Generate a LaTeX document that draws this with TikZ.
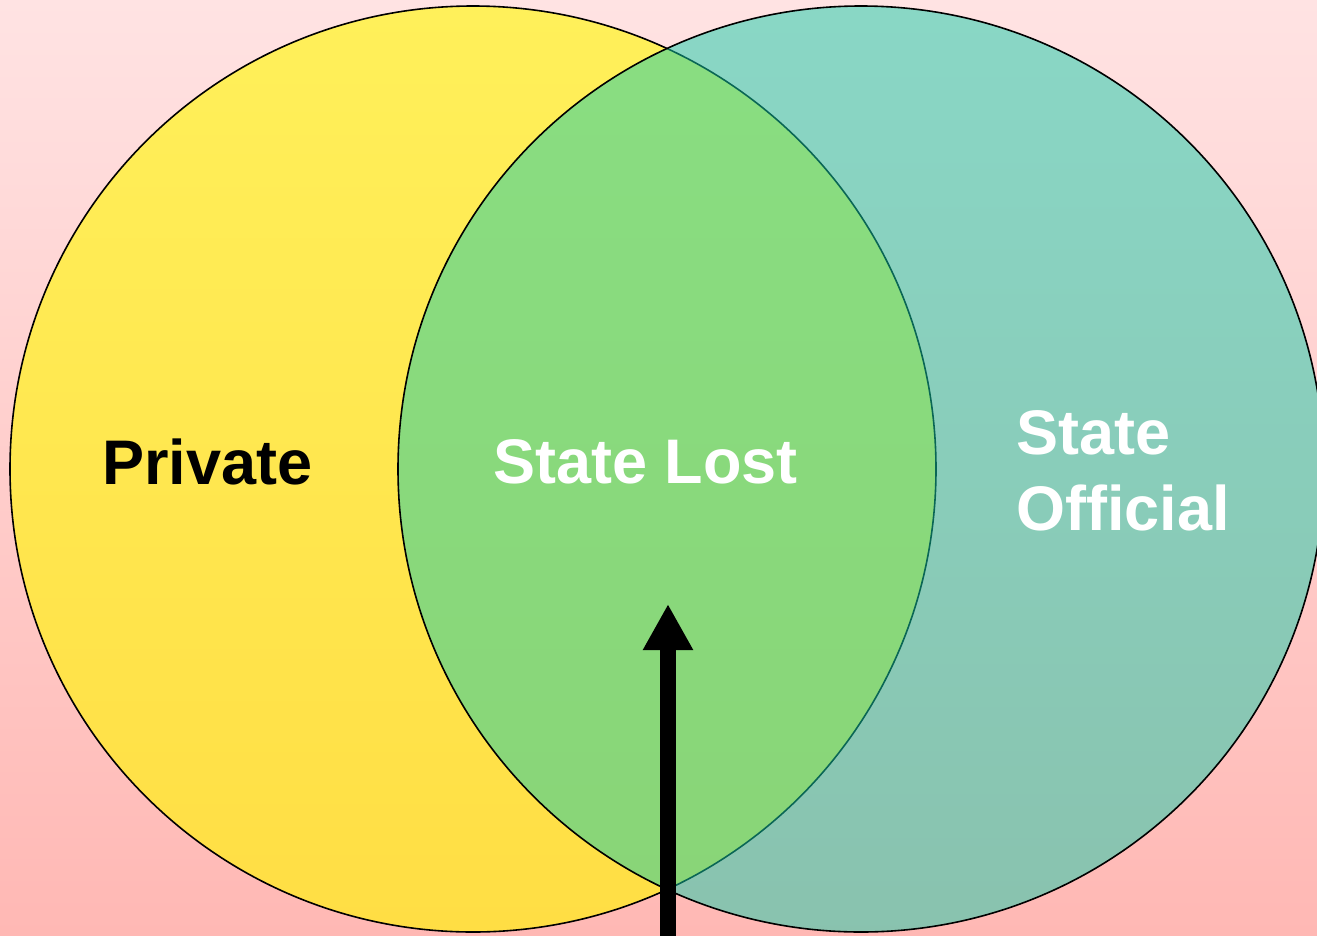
\documentclass[tikz,border=0pt]{standalone}
\usepackage{fontspec}
\setmainfont{Liberation Sans}
\usetikzlibrary{arrows.meta}
\definecolor{pinktop}{RGB}{255,227,227}
\definecolor{pinkbot}{RGB}{255,184,180}
\definecolor{yeltop}{RGB}{255,240,90}
\definecolor{yelbot}{RGB}{255,222,68}
\definecolor{tealfill}{RGB}{20,205,170}
\tikzset{
  venn/.style={circle, minimum size=926pt, inner sep=0pt, draw=black, line width=1.6pt},
  label/.style={font=\bfseries\fontsize{63}{76}\selectfont, inner sep=0pt},
}
\begin{document}
\begin{tikzpicture}[x=1pt,y=-1pt]
  % background
  \path[top color=pinktop, bottom color=pinkbot] (0,0) rectangle (1317,935);
  \useasboundingbox (0,0) rectangle (1317,935);
  % the two sets
  \node[venn, top color=yeltop, bottom color=yelbot] (private) at (473,469) {};
  \node[venn, fill=tealfill, fill opacity=0.5, draw opacity=1] (official) at (861,469) {};
  % labels
  \node[label, anchor=west, text=black] (privtext) at (102,462) {Private};
  \node[label, anchor=west, text=white] (losttext) at (493,462) {State Lost};
  \node[label, anchor=north west, text=white, align=left] (offtext) at (1016,410) {State\\Official};
  % pointer
  \coordinate (base) at (668,945);
  \coordinate (tip) at (668,604);
  \draw[line width=16pt, -{Triangle[width=47pt,length=46pt]}] (base) -- (tip);
\end{tikzpicture}
\end{document}
